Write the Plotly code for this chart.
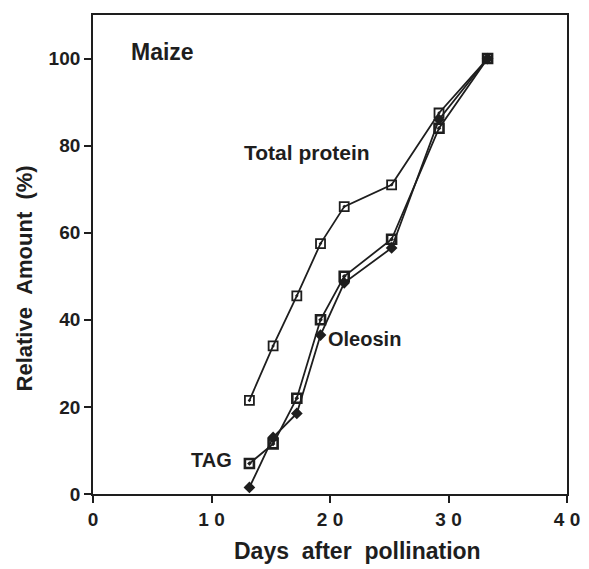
import plotly.graph_objects as go

days = [13.2, 15.2, 17.2, 19.2, 21.2, 25.2, 29.2, 33.3]
total_protein = [21.5, 34, 45.5, 57.5, 66, 71, 87.5, 100]
tag = [7, 11.5, 22, 40, 50, 58.5, 84, 100]
oleosin = [1.5, 13, 18.5, 36.5, 48.5, 56.5, 86, 100]

x_ticks = [0, 10, 20, 30, 40]
x_tick_labels = ["0", "1 0", "2 0", "3 0", "4 0"]
y_ticks = [0, 20, 40, 60, 80, 100]

ink = "#1e1e1e"
font = "Liberation Sans, Arial, sans-serif"
gap2 = "&nbsp;&nbsp;"

fig = go.Figure()
fig.add_trace(go.Scatter(x=days, y=total_protein, mode="lines+markers",
                         line=dict(color=ink, width=1.8),
                         marker=dict(symbol="square-open-dot", size=9, color=ink,
                                     line=dict(width=1.8, color=ink))))
fig.add_trace(go.Scatter(x=days, y=tag, mode="lines+markers",
                         line=dict(color=ink, width=1.8),
                         marker=dict(symbol="square-open-dot", size=9, color=ink,
                                     line=dict(width=2.6, color=ink))))
fig.add_trace(go.Scatter(x=days, y=oleosin, mode="lines+markers",
                         line=dict(color=ink, width=1.8),
                         marker=dict(symbol="diamond", size=9, color=ink)))

ann_font = dict(family=font, size=20, color=ink)
fig.add_annotation(x=3.0, y=101.5, text="<b>Maize</b>", showarrow=False, xanchor="left",
                   font=dict(family=font, size=23, color=ink))
fig.add_annotation(x=12.6, y=78.5, text="<b>Total protein</b>", showarrow=False,
                   xanchor="left", font=dict(family=font, size=21, color=ink))
fig.add_annotation(x=19.7, y=35.5, text="<b>Oleosin</b>", showarrow=False,
                   xanchor="left", font=ann_font)
fig.add_annotation(x=11.9, y=7.8, text="<b>TAG</b>", showarrow=False,
                   xanchor="right", font=ann_font)

# axis titles (placed as annotations to match the reference offsets)
fig.add_annotation(xref="x", yref="paper", x=22.3, y=0, yanchor="middle", yshift=-57,
                   text=f"<b>Days{gap2}after{gap2}pollination</b>", showarrow=False,
                   font=dict(family=font, size=23, color=ink))
fig.add_annotation(xref="paper", yref="y", x=0, y=49.5, xanchor="center", xshift=-69,
                   textangle=-90, text=f"<b>Relative{gap2}Amount{gap2}(%)</b>",
                   showarrow=False, font=dict(family=font, size=22, color=ink))

fig.update_layout(
    width=581, height=561,
    margin=dict(l=85, r=22, t=5, b=75),
    paper_bgcolor="white", plot_bgcolor="white",
    showlegend=False,
    font=dict(family=font, color=ink),
)
fig.update_xaxes(range=[0, 40], tickvals=x_ticks, ticktext=[f"<b>{t}</b>" for t in x_tick_labels],
                 ticks="outside", ticklen=7, tickwidth=1.6, tickcolor=ink,
                 showline=True, linewidth=1.8, linecolor=ink, mirror=True,
                 showgrid=False, zeroline=False, tickfont=dict(size=19, family=font))
fig.update_yaxes(range=[0, 110], tickvals=y_ticks, ticktext=[f"<b>{t}</b>" for t in y_ticks],
                 ticks="outside", ticklen=7, tickwidth=1.6, tickcolor=ink,
                 showline=True, linewidth=1.8, linecolor=ink, mirror=True,
                 showgrid=False, zeroline=False, tickfont=dict(size=19, family=font))

fig.write_html("out.html")
